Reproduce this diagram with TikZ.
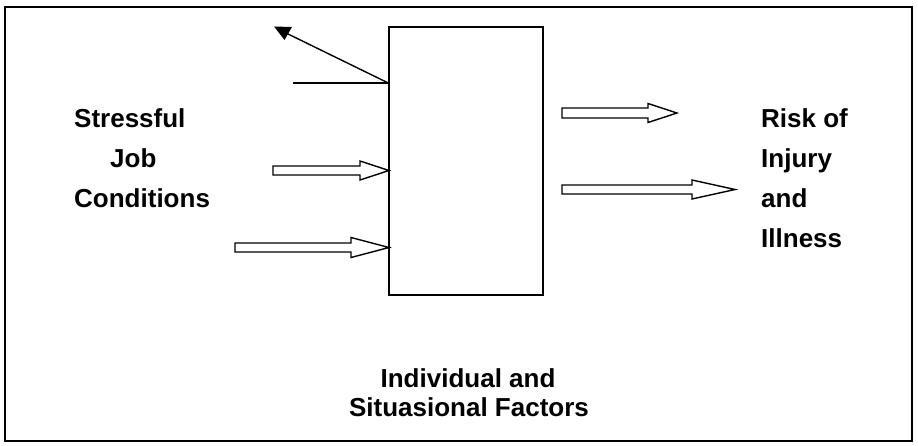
\documentclass[tikz,border=0pt]{standalone}
\usepackage{fontspec}
\setmainfont{Liberation Sans}
\begin{document}
\begin{tikzpicture}[x=1pt,y=-1pt,
  frame/.style={draw=black,line width=2pt},
  factorbox/.style={draw=black,line width=1.4pt,fill=white,minimum width=154pt,minimum height=268pt,inner sep=0pt},
  label/.style={anchor=base west,inner sep=0pt,font=\bfseries\fontsize{26}{30}\selectfont},
  labelc/.style={anchor=base,inner sep=0pt,font=\bfseries\fontsize{26}{30}\selectfont},
  thinline/.style={draw=black,line width=1.4pt},
  fat/.style={draw=black,fill=white,line width=1.4pt,line join=miter}]
% canvas
\useasboundingbox (0,0) rectangle (918,445);
\draw[frame] (5,7) rectangle (912,441);

% central box
\node[factorbox] (box) at (466,161) {};

% block arrow: tail x, centre y, head base x, half shaft, half head, tip
\newcommand\fatarrow[6]{%
  \draw[fat] (#1,#2-#4) -- (#3,#2-#4) -- (#3,#2-#5) -- (#6,#2) --
    (#3,#2+#5) -- (#3,#2+#4) -- (#1,#2+#4) -- cycle;}

% inputs
\fatarrow{273}{170.5}{360}{4.5}{9.5}{389}
\fatarrow{235}{247.5}{351}{4.5}{10}{389}
% outputs
\fatarrow{562}{113}{648}{5}{9.5}{677}
\fatarrow{562}{189.5}{692}{4.5}{9.5}{735}

% feedback line leaving the box
\coordinate (fb) at (box.west |- 0,83);
\coordinate (fbend) at (293,83);
\coordinate (fbtip) at (286,33);
\draw[thinline] (fbend) -- (fb);
\draw[thinline] (fb) -- (fbtip);
\fill[black] (274,26.5) -- (292,27) -- (284.5,40) -- cycle;

% labels
\node[label] (s1) at (74,127) {Stressful};
\node[label] (s2) at (110,167) {Job};
\node[label] (s3) at (74,207) {Conditions};

\node[label] (r1) at (761,127) {Risk of};
\node[label] (r2) at (761,167) {Injury};
\node[label] (r3) at (761,207) {and};
\node[label] (r4) at (761,247) {Illness};

\node[labelc] (f1) at (468,387) {Individual and};
\node[labelc] (f2) at (469,416) {Situasional Factors};
\end{tikzpicture}
\end{document}
